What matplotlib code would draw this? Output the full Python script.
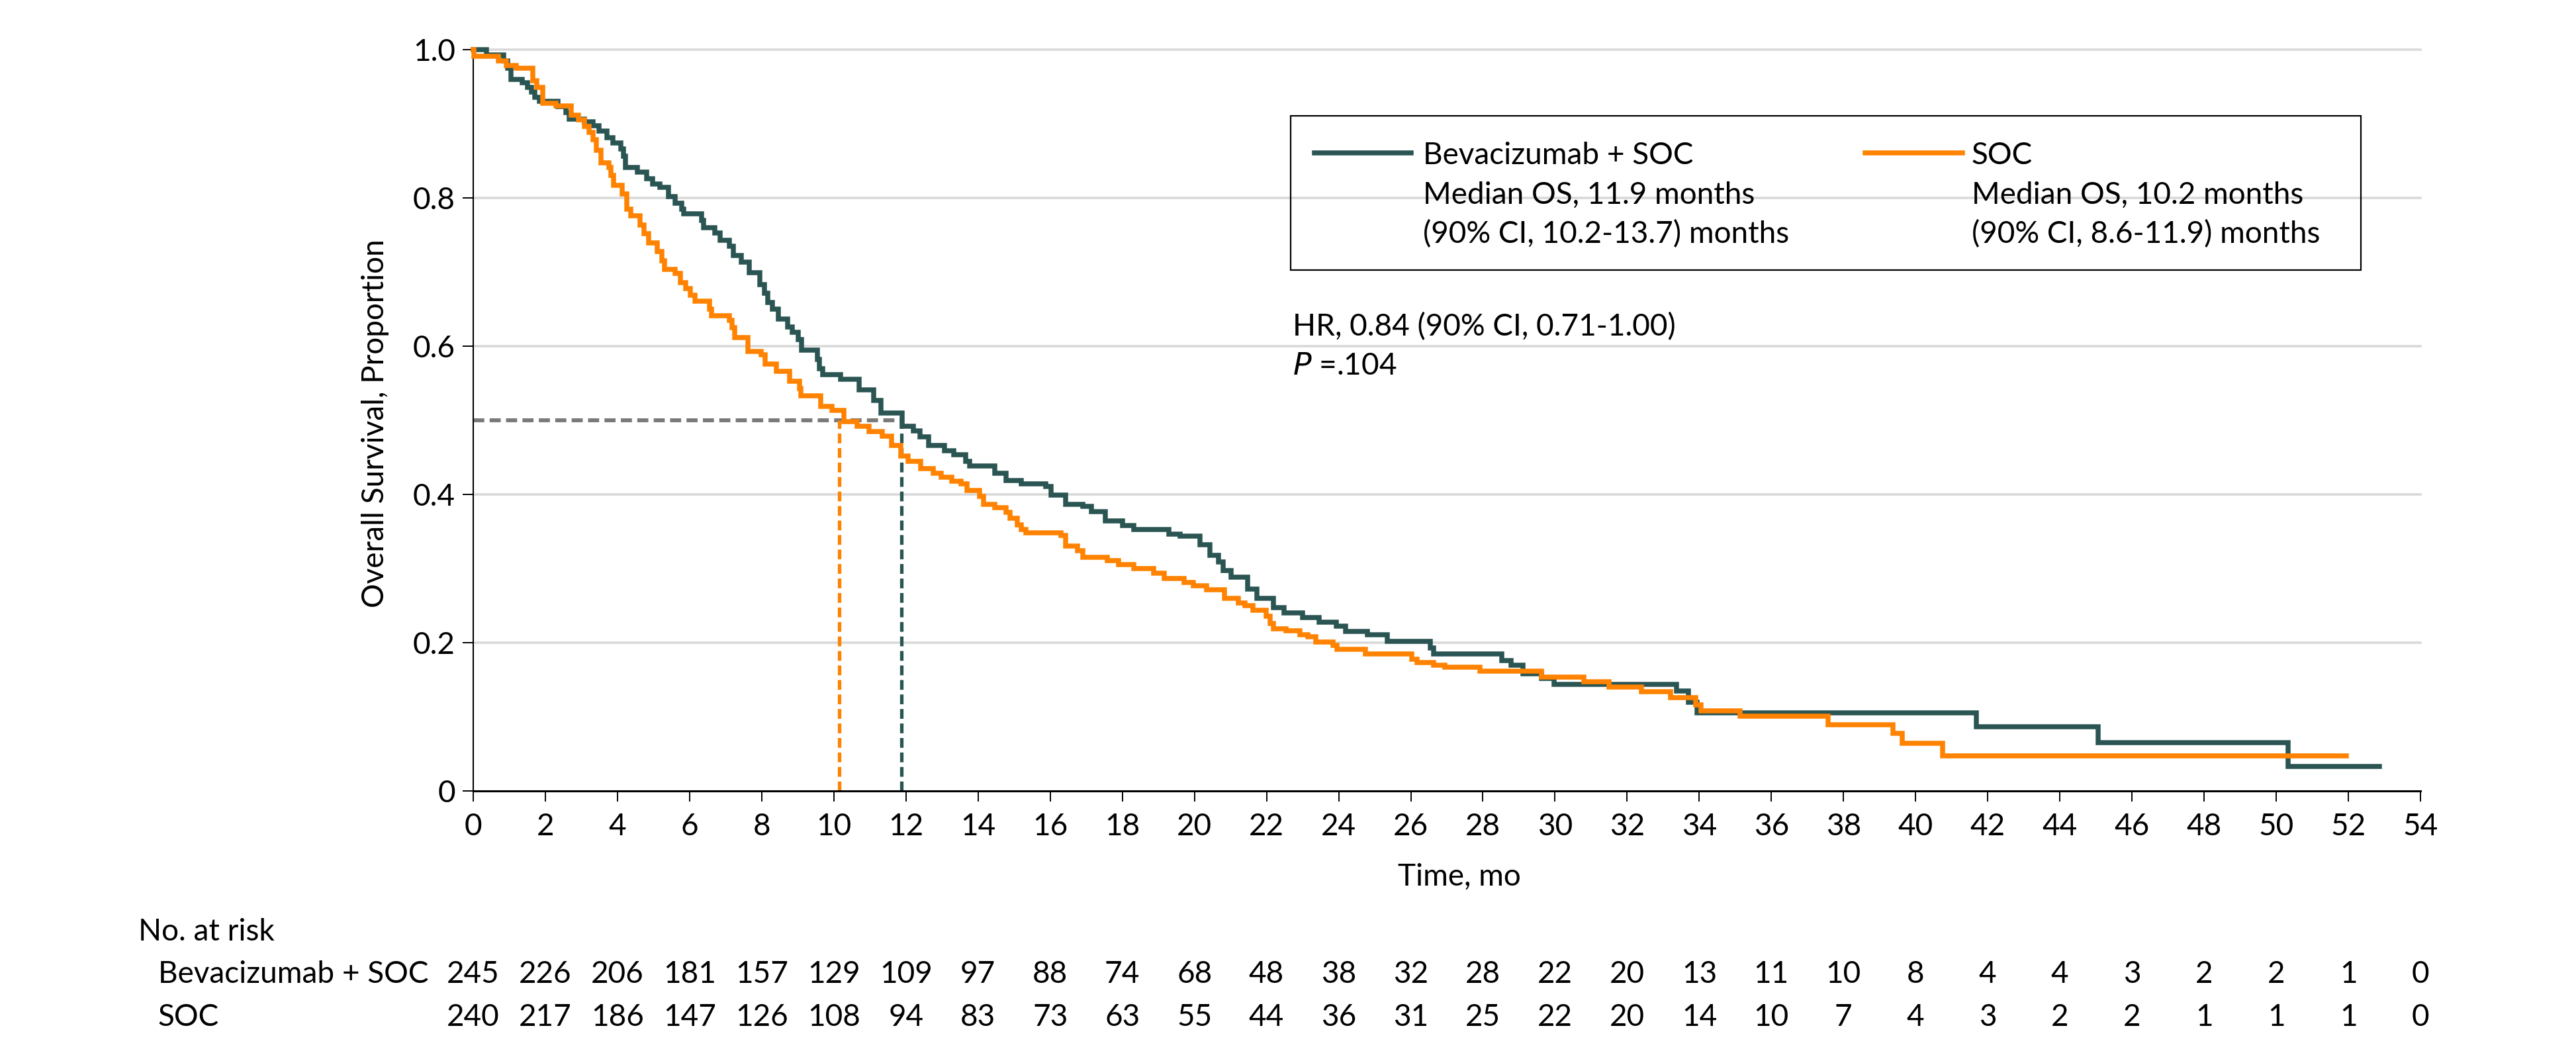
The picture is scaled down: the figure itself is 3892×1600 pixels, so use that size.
import numpy as np
import matplotlib
matplotlib.use('Agg')
import matplotlib.pyplot as plt
from matplotlib.lines import Line2D
from matplotlib.patches import Rectangle
from matplotlib.transforms import blended_transform_factory

plt.rcParams['font.family'] = ['Lato', 'DejaVu Sans']

W, H = 3892, 1600

# Kaplan-Meier steps (time of drop, survival after drop)
bev_t = [0, 0.37, 0.85, 0.95, 1.04, 1.35, 1.50, 1.62, 1.71, 1.83, 2.35, 2.57, 2.66, 3.09,
         3.33, 3.49, 3.70, 3.88, 4.10, 4.16, 4.22, 4.56, 4.80, 4.98, 5.17, 5.41, 5.60, 5.78,
         5.84, 6.33, 6.39, 6.70, 6.85, 7.10, 7.22, 7.43, 7.65, 7.95, 8.07, 8.17, 8.29, 8.47,
         8.72, 8.84, 9.02, 9.11, 9.54, 9.60, 9.69, 10.18, 10.70, 11.10, 11.31, 11.89, 12.20,
         12.39, 12.63, 13.06, 13.33, 13.65, 13.76, 14.46, 14.77, 15.20, 15.87, 16.02, 16.42,
         16.91, 17.15, 17.52, 18.01, 18.32, 19.30, 19.60, 20.15, 20.43, 20.67, 20.79, 21.01,
         21.47, 21.74, 22.20, 22.48, 23.00, 23.46, 23.94, 24.19, 24.80, 25.35, 26.55, 26.63,
         28.53, 28.78, 29.11, 29.63, 29.97, 33.36, 33.70, 33.94, 41.69, 45.06, 50.33, 52.86]
bev_s = [1.0, 0.993, 0.985, 0.975, 0.960, 0.955, 0.949, 0.943, 0.936, 0.930, 0.923, 0.915,
         0.906, 0.903, 0.897, 0.890, 0.881, 0.874, 0.866, 0.856, 0.841, 0.835, 0.826, 0.819,
         0.814, 0.802, 0.793, 0.785, 0.779, 0.770, 0.760, 0.753, 0.743, 0.735, 0.722, 0.713,
         0.699, 0.683, 0.671, 0.659, 0.650, 0.637, 0.626, 0.619, 0.609, 0.595, 0.582, 0.570,
         0.562, 0.555, 0.541, 0.527, 0.510, 0.492, 0.486, 0.478, 0.466, 0.459, 0.454, 0.445,
         0.438, 0.429, 0.419, 0.414, 0.411, 0.399, 0.387, 0.384, 0.377, 0.364, 0.358, 0.353,
         0.346, 0.344, 0.332, 0.318, 0.309, 0.297, 0.288, 0.272, 0.260, 0.247, 0.240, 0.234,
         0.228, 0.222, 0.215, 0.211, 0.202, 0.193, 0.185, 0.176, 0.170, 0.158, 0.152, 0.144,
         0.135, 0.120, 0.105, 0.087, 0.065, 0.033, 0.033]

soc_t = [0, 0.02, 0.70, 0.92, 1.19, 1.65, 1.77, 1.93, 2.29, 2.72, 2.91, 3.09, 3.21, 3.33,
         3.42, 3.55, 3.76, 3.82, 3.90, 4.13, 4.25, 4.37, 4.62, 4.74, 4.86, 5.11, 5.23, 5.30,
         5.60, 5.75, 5.90, 6.02, 6.15, 6.55, 6.61, 7.10, 7.18, 7.25, 7.61, 7.98, 8.10, 8.41,
         8.78, 9.05, 9.08, 9.63, 9.94, 10.27, 10.64, 10.98, 11.35, 11.60, 11.85, 12.05, 12.41,
         12.75, 12.97, 13.27, 13.52, 13.70, 14.04, 14.16, 14.46, 14.77, 14.89, 15.08, 15.20,
         15.32, 16.30, 16.42, 16.76, 16.91, 17.58, 17.89, 18.32, 18.87, 19.17, 19.72, 19.97,
         20.34, 20.83, 21.22, 21.41, 21.62, 21.99, 22.10, 22.20, 22.54, 22.93, 23.15, 23.36,
         23.85, 23.95, 24.74, 26.02, 26.17, 26.63, 26.94, 27.92, 29.63, 30.80, 31.50, 32.39,
         33.21, 33.91, 34.05, 35.14, 37.58, 39.38, 39.63, 40.75, 51.95]
soc_s = [1.0, 0.991, 0.985, 0.979, 0.975, 0.958, 0.949, 0.928, 0.924, 0.912, 0.905, 0.896,
         0.888, 0.879, 0.864, 0.847, 0.841, 0.830, 0.817, 0.805, 0.785, 0.776, 0.763, 0.752,
         0.739, 0.728, 0.715, 0.704, 0.698, 0.686, 0.678, 0.669, 0.661, 0.650, 0.641, 0.635,
         0.625, 0.612, 0.593, 0.588, 0.576, 0.566, 0.553, 0.543, 0.533, 0.519, 0.513, 0.498,
         0.492, 0.485, 0.479, 0.466, 0.452, 0.445, 0.435, 0.429, 0.423, 0.418, 0.414, 0.405,
         0.397, 0.387, 0.382, 0.376, 0.368, 0.359, 0.353, 0.348, 0.345, 0.330, 0.324, 0.315,
         0.311, 0.305, 0.300, 0.294, 0.287, 0.281, 0.277, 0.271, 0.260, 0.254, 0.250, 0.244,
         0.236, 0.226, 0.219, 0.216, 0.211, 0.208, 0.201, 0.196, 0.191, 0.185, 0.178, 0.173,
         0.170, 0.167, 0.162, 0.154, 0.147, 0.140, 0.134, 0.126, 0.116, 0.108, 0.101, 0.089,
         0.078, 0.064, 0.047, 0.047]

median_t = [11.87, 10.15]   # Bev+SOC, SOC

risk_times = list(range(0, 55, 2))
bev_risk = [245, 226, 206, 181, 157, 129, 109, 97, 88, 74, 68, 48, 38, 32, 28, 22, 20, 13,
            11, 10, 8, 4, 4, 3, 2, 2, 1, 0]
soc_risk = [240, 217, 186, 147, 126, 108, 94, 83, 73, 63, 55, 44, 36, 31, 25, 22, 20, 14,
            10, 7, 4, 3, 2, 2, 1, 1, 1, 0]

TEAL = '#2a5552'
ORANGE = '#ff8200'
FS = 33


def fx(x):
    return x / W


def fy(y):
    return 1 - y / H


fig = plt.figure(figsize=(W / 100, H / 100), dpi=100)
ax = fig.add_axes([fx(715), fy(1195), (3657 - 715) / W, (1195 - 75) / H])

# gridlines
for g in [0.2, 0.4, 0.6, 0.8, 1.0]:
    ax.axhline(g, color='#d9d9d9', lw=2.6, zorder=0, clip_on=False)

# median lines
ax.plot([0, median_t[0]], [0.5, 0.5], color='#7a7a7a', lw=4.3, dashes=(2.8, 1.35), zorder=1)
ax.plot([median_t[0], median_t[0]], [0, 0.5], color=TEAL, lw=3.8, dashes=(2.8, 1.35), zorder=1)
ax.plot([median_t[1], median_t[1]], [0, 0.5], color=ORANGE, lw=3.8, dashes=(2.8, 1.35), zorder=1)

ax.step(bev_t, bev_s, where='post', color=TEAL, lw=5.4, zorder=3, clip_on=False,
        solid_joinstyle='miter')
ax.step(soc_t, soc_s, where='post', color=ORANGE, lw=5.4, zorder=4, clip_on=False,
        solid_joinstyle='miter')

ax.set_xlim(0, 54)
ax.set_ylim(0, 1.0)
ax.set_xticks(risk_times)
ax.set_yticks([0, 0.2, 0.4, 0.6, 0.8, 1.0])
ax.set_yticklabels(['0', '0.2', '0.4', '0.6', '0.8', '1.0'])
for sp in ['top', 'right']:
    ax.spines[sp].set_visible(False)
ax.spines['left'].set_linewidth(1.5)
ax.spines['bottom'].set_linewidth(2.2)
ax.tick_params(axis='both', direction='out', length=11.5, width=1.4, labelsize=FS)
ax.tick_params(axis='x', pad=12)
ax.tick_params(axis='y', pad=8)

# axis titles
fig.text(fx(567), fy(640), 'Overall Survival, Proportion', rotation=90, fontsize=FS,
         ha='center', va='center')
fig.text(fx(2205), fy(1338), 'Time, mo', fontsize=FS, ha='center', va='baseline')

# legend box
fig.add_artist(Rectangle((fx(1950), fy(408)), (3567 - 1950) / W, (408 - 175) / H,
                         transform=fig.transFigure, fill=False, edgecolor='black', lw=1.6))
fig.add_artist(Line2D([fx(1986), fx(2132)], [fy(231), fy(231)], color=TEAL, lw=5.4,
                      transform=fig.transFigure))
fig.add_artist(Line2D([fx(2818), fx(2965)], [fy(231), fy(231)], color=ORANGE, lw=5.4,
                      transform=fig.transFigure))
bev_lines = ['Bevacizumab + SOC', 'Median OS, 11.9 months', '(90% CI, 10.2-13.7) months']
soc_lines = ['SOC', 'Median OS, 10.2 months', '(90% CI, 8.6-11.9) months']
for i, (a, b) in enumerate(zip(bev_lines, soc_lines)):
    yb = 248 + i * 59.5
    fig.text(fx(2150), fy(yb), a, fontsize=FS, va='baseline')
    fig.text(fx(2979), fy(yb), b, fontsize=FS, va='baseline')

fig.text(fx(1953), fy(507), 'HR, 0.84 (90% CI, 0.71-1.00)', fontsize=FS, va='baseline')
fig.text(fx(1953), fy(566), '$\\it{P}$ =.104', fontsize=FS, va='baseline')

# number at risk table
fig.text(fx(209), fy(1421), 'No. at risk', fontsize=FS, va='baseline')
fig.text(fx(239), fy(1485), 'Bevacizumab + SOC', fontsize=FS, va='baseline')
fig.text(fx(239), fy(1550), 'SOC', fontsize=FS, va='baseline')
tr = blended_transform_factory(ax.transData, fig.transFigure)
for t, b, s in zip(risk_times, bev_risk, soc_risk):
    ax.text(t, fy(1485), str(b), transform=tr, fontsize=FS, ha='center', va='baseline',
            clip_on=False)
    ax.text(t, fy(1550), str(s), transform=tr, fontsize=FS, ha='center', va='baseline',
            clip_on=False)

fig.savefig('out.png', dpi=100)
